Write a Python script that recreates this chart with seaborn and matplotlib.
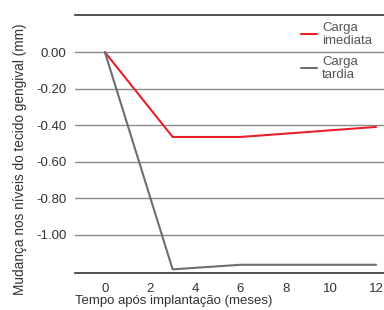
import pandas as pd
import matplotlib.pyplot as plt
import seaborn as sns

sns.set_style("white")
plt.rcParams["font.family"] = ["Liberation Sans", "DejaVu Sans"]
plt.rcParams["font.size"] = 9.5

# data
meses = [0, 3, 6, 12]
imediata = [0.00, -0.465, -0.465, -0.41]
tardia = [0.00, -1.19, -1.165, -1.165]
series = ["Carga\nimediata", "Carga\ntardia"]
cores = ["#e8202a", "#6d6e71"]

df = pd.DataFrame({
    "meses": meses * 2,
    "valor": imediata + tardia,
    "serie": [series[0]] * len(meses) + [series[1]] * len(meses),
})

fig = plt.figure(figsize=(3.84, 3.10), dpi=100)
ax = fig.add_axes([75 / 384, 1 - 273 / 310, 1 - 75 / 384, (273 - 15) / 310])

sns.lineplot(data=df, x="meses", y="valor", hue="serie", palette=cores,
             linewidth=1.5, ax=ax)

ax.set_xlim(-1.32, 12.35)
ax.set_ylim(-1.21, 0.203)
ax.set_xticks([0, 2, 4, 6, 8, 10, 12])
ax.set_yticks([0, -0.2, -0.4, -0.6, -0.8, -1.0])
ax.set_yticklabels(["0.00", "-0.20", "-0.40", "-0.60", "-0.80", "-1.00"])
ax.yaxis.grid(True, color="#8a8a8a", linewidth=1)
ax.set_axisbelow(True)

for s in ["left", "right"]:
    ax.spines[s].set_visible(False)
for s in ["top", "bottom"]:
    ax.spines[s].set_color("#333333")
    ax.spines[s].set_linewidth(1.2)
ax.tick_params(axis="y", length=0, pad=6, colors="#333333")
ax.tick_params(axis="x", length=0, colors="#333333", pad=7)

ax.set_ylabel("Mudança nos níveis do tecido gengival (mm)", color="#333333",
              fontsize=9.8)
ax.yaxis.set_label_coords(-0.155, 0.44)
ax.set_xlabel("Tempo após implantação (meses)", color="#333333", ha="left")
ax.xaxis.set_label_coords(0.0, -0.085)

leg = ax.legend(loc="upper right", bbox_to_anchor=(1.0, 1.02), frameon=False,
                handlelength=1.2, handletextpad=0.4, labelspacing=0.7,
                fontsize=9.5)
for t in leg.get_texts():
    t.set_color("#555555")
    t.set_linespacing(1.1)

fig.savefig("out.png", dpi=100)
